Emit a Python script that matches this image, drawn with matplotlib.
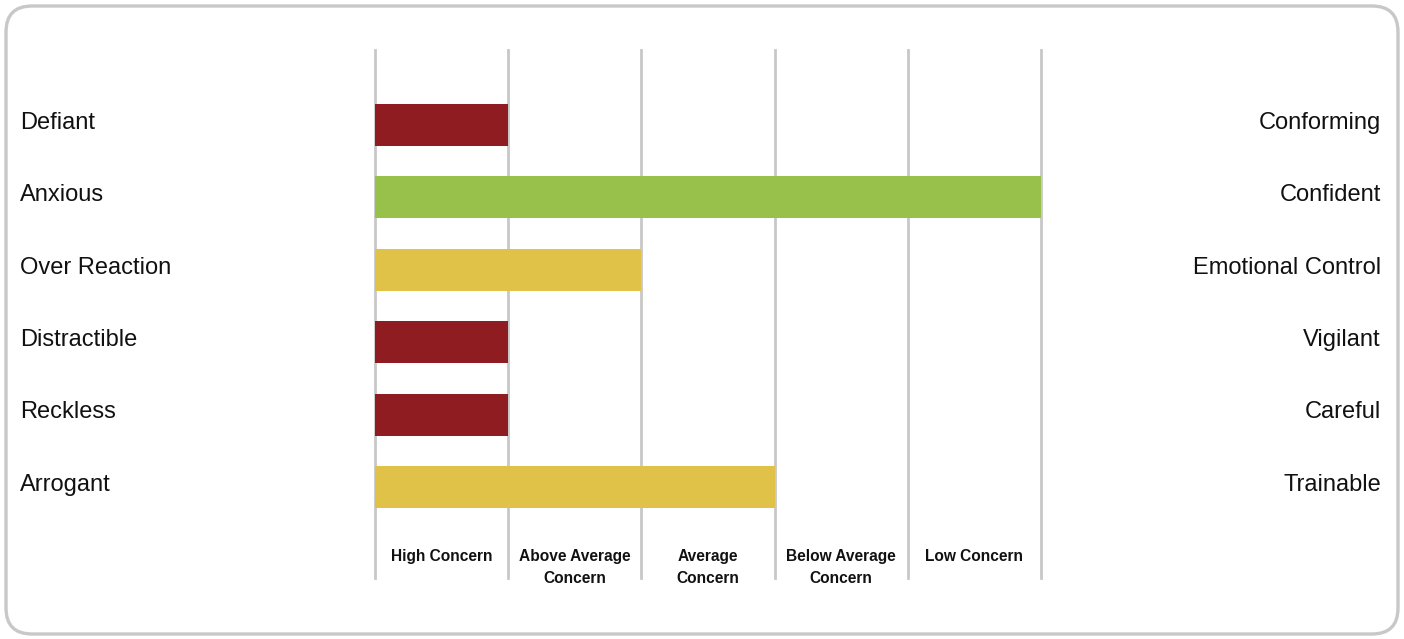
import matplotlib.pyplot as plt
from matplotlib.patches import FancyBboxPatch
from matplotlib.transforms import blended_transform_factory

plt.rcParams['font.family'] = ['Liberation Sans', 'DejaVu Sans']

# Data
left_labels = ['Defiant', 'Anxious', 'Over Reaction', 'Distractible', 'Reckless', 'Arrogant']
right_labels = ['Conforming', 'Confident', 'Emotional Control', 'Vigilant', 'Careful', 'Trainable']
scores = [1, 5, 2, 1, 1, 3]
bar_colors = ['#8E1C20', '#97C14A', '#E0C248', '#8E1C20', '#8E1C20', '#E0C248']
levels = ['High Concern', 'Above Average\nConcern', 'Average\nConcern',
          'Below Average\nConcern', 'Low Concern']

W, H = 1404, 639
fig = plt.figure(figsize=(W / 100, H / 100), dpi=100)

# background frame with rounded corners (pixel coords)
bg = fig.add_axes([0, 0, 1, 1])
bg.set_xlim(0, W)
bg.set_ylim(0, H)
bg.axis('off')
frame = FancyBboxPatch((6, 5), W - 12, H - 11,
                       boxstyle='round,pad=0,rounding_size=26',
                       fc='white', ec='#C8C8C8', lw=2.4)
bg.add_patch(frame)

# main axes
ax = fig.add_axes([375 / W, 1 - 578 / H, (1041 - 375) / W, (578 - 50) / H])
ax.set_facecolor('none')
rows = list(range(len(scores)))
ax.barh(rows, scores, height=0.58, color=bar_colors, zorder=3)
ax.set_xlim(0, 5)
ax.set_ylim(6.257, -1.036)
for x in range(6):
    ax.axvline(x, color='#C8C8C8', lw=2, zorder=1, clip_on=False)
ax.set_xticks([])
ax.set_yticks([])
for s in ax.spines.values():
    s.set_visible(False)

for j, lab in enumerate(levels):
    ax.text(j + 0.5, 5.86, lab, ha='center', va='top', fontsize=11.2,
            fontweight='bold', linespacing=1.6, color='#111111')

tr = blended_transform_factory(fig.transFigure, ax.transData)
for i, (l, r) in enumerate(zip(left_labels, right_labels)):
    ax.text(20 / W, i - 0.03, l, transform=tr, ha='left', va='center',
            fontsize=17, color='#111111')
    ax.text(1381 / W, i - 0.03, r, transform=tr, ha='right', va='center',
            fontsize=17, color='#111111')

fig.savefig('out.png', dpi=100)
